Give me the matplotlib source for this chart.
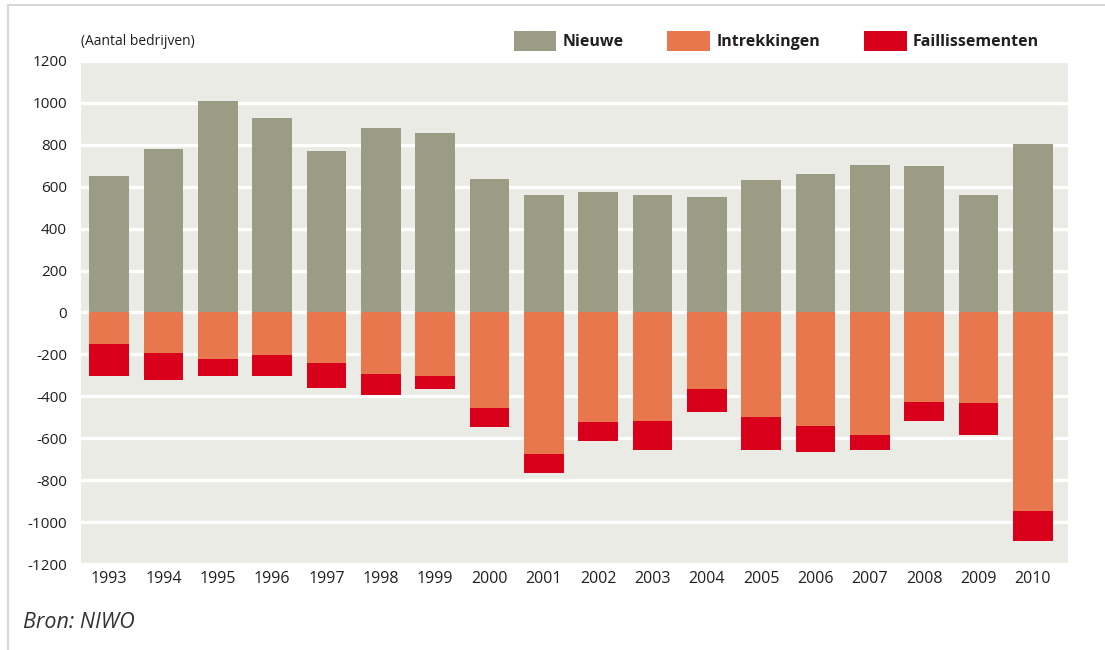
import matplotlib.pyplot as plt
from matplotlib.lines import Line2D

# Aantal bedrijven per jaar
jaren = ['1993', '1994', '1995', '1996', '1997', '1998', '1999', '2000', '2001',
         '2002', '2003', '2004', '2005', '2006', '2007', '2008', '2009', '2010']
nieuwe = [650, 778, 1010, 929, 771, 882, 857, 638, 559,
          576, 559, 552, 632, 662, 705, 700, 559, 802]
intrekkingen = [-152, -195, -221, -202, -243, -292, -305, -457, -676,
                -524, -518, -367, -500, -543, -586, -427, -433, -949]
faillissementen = [-153, -129, -84, -103, -117, -103, -60, -91, -91,
                   -90, -139, -108, -157, -121, -71, -91, -153, -140]
y_ticks = [1200, 1000, 800, 600, 400, 200, 0, -200, -400, -600, -800, -1000, -1200]

plt.rcParams['font.family'] = ['Open Sans', 'DejaVu Sans']

c_nieuw = '#9c9b83'
c_intr = '#e8774d'
c_fail = '#d9001b'
text_col = '#231f20'

fig = plt.figure(figsize=(11.05, 6.5), dpi=100)
ax = fig.add_axes([0.0733, 0.1323, 0.8932, 0.7739])
ax.set_facecolor('#ebebe5')

x = range(len(jaren))
w = 0.73
b1 = ax.bar(x, nieuwe, width=w, color=c_nieuw, label='Nieuwe', zorder=3)
b2 = ax.bar(x, intrekkingen, width=w, color=c_intr, label='Intrekkingen', zorder=3)
b3 = ax.bar(x, faillissementen, width=w, bottom=intrekkingen, color=c_fail,
            label='Faillissementen', zorder=3)

ax.set_ylim(-1200, 1200)
ax.set_xlim(-0.52, len(jaren) - 1 + 0.645)
ax.set_yticks(y_ticks)
ax.set_yticklabels([str(v) for v in y_ticks])
ax.set_xticks(list(x))
ax.set_xticklabels(jaren)
ax.tick_params(axis='y', length=0, pad=10, labelsize=11, labelcolor=text_col)
ax.tick_params(axis='x', length=0, pad=5, labelsize=11.5, labelcolor=text_col)
ax.grid(axis='y', color='white', linewidth=2.4, zorder=1)
ax.set_axisbelow(True)
for s in ax.spines.values():
    s.set_visible(False)

# legend
leg = fig.legend(handles=[b1, b2, b3], loc='center left', ncol=3,
                 bbox_to_anchor=(0.4575, 0.937), frameon=False,
                 prop={'size': 11.5, 'weight': 'bold'},
                 handlelength=2.68, handleheight=1.48, handletextpad=0.38,
                 columnspacing=2.75, borderpad=0)
for t in leg.get_texts():
    t.set_color(text_col)

fig.text(0.0737, 0.936, '(Aantal bedrijven)', fontsize=10, color=text_col,
         va='center', ha='left')
fig.text(0.021, 0.042, 'Bron: NIWO', fontsize=15.5, style='italic',
         color='#333333', va='center', ha='left')

# light frame (top and left border)
fig.add_artist(Line2D([0.0072, 1.0], [0.992, 0.992], color='#d8d8d8', linewidth=1.5))
fig.add_artist(Line2D([0.0072, 0.0072], [0.0, 0.992], color='#d8d8d8', linewidth=1.5))

fig.savefig('out.png', dpi=100)
